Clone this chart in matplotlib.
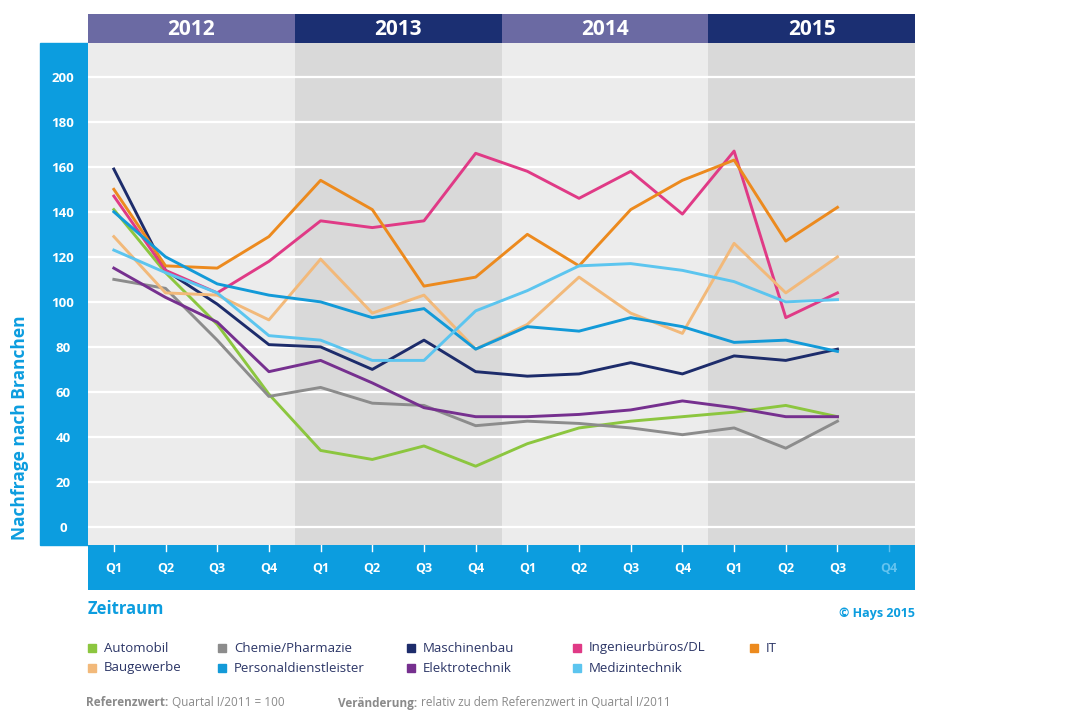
import matplotlib

matplotlib.use("Agg")
import matplotlib.pyplot as plt
from matplotlib.patches import Rectangle

W, H = 1080, 720

YEARS = ["2012", "2013", "2014", "2015"]
QUARTERS = ["Q1", "Q2", "Q3", "Q4"] * 4
Y_TICKS = [0, 20, 40, 60, 80, 100, 120, 140, 160, 180, 200]

# Index values per quarter, Q1/2012 .. Q3/2015
AUTOMOBIL = [141, 113, 90, 59, 34, 30, 36, 27, 37, 44, 47, 49, 51, 54, 49]
CHEMIE = [110, 106, 83, 58, 62, 55, 54, 45, 47, 46, 44, 41, 44, 35, 47]
MASCHINENBAU = [159, 114, 99, 81, 80, 70, 83, 69, 67, 68, 73, 68, 76, 74, 79]
INGENIEURBUEROS = [147, 114, 104, 118, 136, 133, 136, 166, 158, 146, 158, 139, 167, 93, 104]
IT = [150, 116, 115, 129, 154, 141, 107, 111, 130, 116, 141, 154, 163, 127, 142]
BAUGEWERBE = [129, 104, 103, 92, 119, 95, 103, 79, 90, 111, 95, 86, 126, 104, 120]
PERSONAL = [140, 120, 108, 103, 100, 93, 97, 79, 89, 87, 93, 89, 82, 83, 78]
ELEKTRO = [115, 102, 91, 69, 74, 64, 53, 49, 49, 50, 52, 56, 53, 49, 49]
MEDIZIN = [123, 113, 104, 85, 83, 74, 74, 96, 105, 116, 117, 114, 109, 100, 101]

SERIES = [
	("Automobil", AUTOMOBIL, "#8cc63f"),
	("Chemie/Pharmazie", CHEMIE, "#8c8c8c"),
	("Maschinenbau", MASCHINENBAU, "#1d2c6b"),
	("Ingenieurbüros/DL", INGENIEURBUEROS, "#e03a86"),
	("IT", IT, "#ec8a1e"),
	("Baugewerbe", BAUGEWERBE, "#f2b97a"),
	("Personaldienstleister", PERSONAL, "#139ad8"),
	("Elektrotechnik", ELEKTRO, "#76308f"),
	("Medizintechnik", MEDIZIN, "#5cc5ef"),
]

FOOTER = [
	("Referenzwert:", "Quartal I/2011 = 100", 86),
	("Veränderung:", "relativ zu dem Referenzwert in Quartal I/2011", 338),
]

BLUE = "#0c9ddf"
HEADER_COLORS = ["#6b6aa3", "#1b2f72", "#6b6aa3", "#1b2f72"]
BAND_COLORS = ["#ececec", "#d9d9d9", "#ececec", "#d9d9d9"]
FONT = "Open Sans"


def fx(x: float) -> float:
	return x / W


def fy(y: float) -> float:
	return 1 - y / H


def main() -> None:
	plt.rcParams["font.family"] = [FONT, "DejaVu Sans"]
	fig = plt.figure(figsize=(W / 100, H / 100), dpi=100)

	left, right = 88, 915
	x_lim = (-0.5, 15.5)

	# main plot area
	ax = fig.add_axes([fx(left), fy(545), fx(right - left), (545 - 43) / H])
	ax.set_xlim(*x_lim)
	ax.set_ylim(-8, 215)
	for i, color in enumerate(BAND_COLORS):
		ax.axvspan(i * 4 - 0.5, i * 4 + 3.5, color=color, lw=0, zorder=0)
	for t in Y_TICKS:
		ax.axhline(t, color="white", lw=1.6, zorder=1)
	for name, values, color in SERIES:
		ax.plot(range(len(values)), values, color=color, lw=2.1, zorder=3, label=name)
	ax.set_xticks([])
	ax.set_yticks(Y_TICKS)
	ax.set_yticklabels([str(t) for t in Y_TICKS], color="white", fontsize=9.5,
		fontweight="bold", ha="center")
	ax.tick_params(axis="y", length=0, pad=18)
	for spine in ax.spines.values():
		spine.set_visible(False)

	# blue band behind the y labels
	fig.patches.append(Rectangle((fx(40), fy(545)), fx(48), (545 - 43) / H,
		transform=fig.transFigure, color=BLUE, zorder=-1))

	# year header
	hax = fig.add_axes([fx(left), fy(43), fx(right - left), 29 / H])
	hax.set_xlim(*x_lim)
	hax.set_ylim(0, 1)
	hax.axis("off")
	for i, (year, color) in enumerate(zip(YEARS, HEADER_COLORS)):
		hax.add_patch(Rectangle((i * 4 - 0.5, 0), 4, 1, color=color, lw=0))
		hax.text(i * 4 + 1.5, 0.48, year, color="white", fontsize=15,
			fontweight="bold", ha="center", va="center")

	# quarter band
	bax = fig.add_axes([fx(left), fy(590), fx(right - left), 45 / H])
	bax.set_xlim(*x_lim)
	bax.set_ylim(0, 1)
	bax.set_facecolor(BLUE)
	bax.set_xticks([])
	bax.set_yticks([])
	for spine in bax.spines.values():
		spine.set_visible(False)
	for i, q in enumerate(QUARTERS):
		faded = i >= len(AUTOMOBIL)
		tick_color = "#5fc0ee" if faded else "white"
		bax.plot([i, i], [1, 1 - 6 / 45], color=tick_color, lw=1)
		bax.text(i, 0.48, q, color="#63c3ef" if faded else "white", fontsize=9,
			fontweight="bold", ha="center", va="center")

	# axis titles and source
	fig.text(fx(20), fy(428), "Nachfrage nach Branchen", rotation=90, color=BLUE,
		fontsize=12.5, fontweight="bold", ha="center", va="center")
	fig.text(fx(88), fy(609), "Zeitraum", color=BLUE, fontsize=12,
		fontweight="bold", ha="left", va="center")
	fig.text(fx(915), fy(613), "© Hays 2015", color=BLUE, fontsize=9,
		fontweight="bold", ha="right", va="center")

	# legend, drawn by hand to keep the fixed column grid
	col_x = [88, 218, 407, 573, 750]
	row_y = [648, 668]
	for k, (name, _, color) in enumerate(SERIES):
		row, col = divmod(k, 5)
		x, y = col_x[col], row_y[row]
		fig.patches.append(Rectangle((fx(x), fy(y + 4)), fx(8), 8 / H,
			transform=fig.transFigure, color=color))
		fig.text(fx(x + 16), fy(y), name, color="#2b3566", fontsize=9.5,
			ha="left", va="center")

	# footer: bold label followed directly by the plain text
	grey = "#8a8a8a"
	renderer = fig.canvas.get_renderer()
	for label, rest, x in FOOTER:
		t = fig.text(fx(x), fy(703), label, color=grey, fontsize=8.5,
			fontweight="bold", ha="left", va="center")
		x_end = t.get_window_extent(renderer).x1
		fig.text((x_end + 4) / W, fy(703), rest, color=grey, fontsize=8.5,
			ha="left", va="center")

	fig.savefig("out.png", dpi=100)


if __name__ == "__main__":
	main()
